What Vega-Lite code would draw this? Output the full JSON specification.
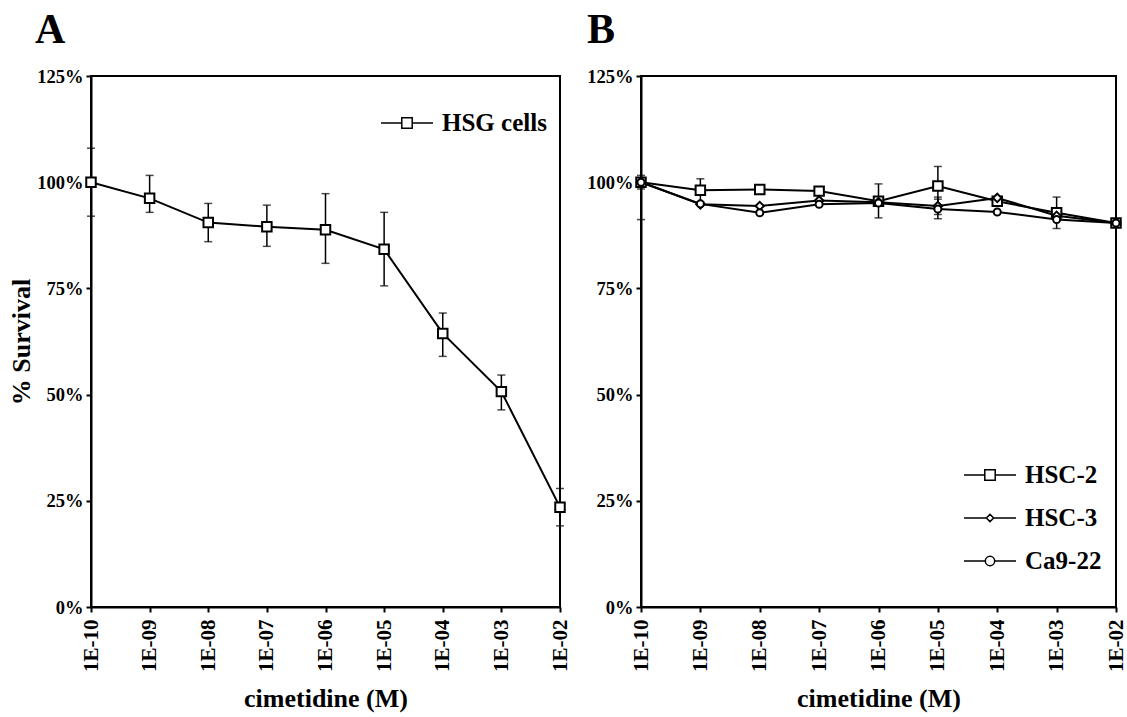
{
  "$schema": "https://vega.github.io/schema/vega-lite/v6.json",
  "background": "white",
  "padding": {"left": 7, "top": 8, "right": 5, "bottom": 0},
  "spacing": 13,
  "datasets": {
    "A": [
      {"series": "HSG cells", "conc": 1e-10, "y": 100.0, "lo": 92.0, "hi": 108.0},
      {"series": "HSG cells", "conc": 1e-9, "y": 96.2, "lo": 92.9, "hi": 101.6},
      {"series": "HSG cells", "conc": 1e-8, "y": 90.5, "lo": 86.0, "hi": 95.0},
      {"series": "HSG cells", "conc": 1e-7, "y": 89.5, "lo": 84.9, "hi": 94.6},
      {"series": "HSG cells", "conc": 1e-6, "y": 88.8, "lo": 80.9, "hi": 97.3},
      {"series": "HSG cells", "conc": 1e-5, "y": 84.2, "lo": 75.6, "hi": 92.9},
      {"series": "HSG cells", "conc": 1e-4, "y": 64.4, "lo": 59.0, "hi": 69.2},
      {"series": "HSG cells", "conc": 1e-3, "y": 50.7, "lo": 46.4, "hi": 54.6},
      {"series": "HSG cells", "conc": 1e-2, "y": 23.5, "lo": 19.1, "hi": 27.9}
    ],
    "B": [
      {"series": "HSC-2", "conc": 1e-10, "y": 100.0, "lo": 98.4, "hi": 101.6},
      {"series": "HSC-2", "conc": 1e-9, "y": 98.1, "lo": 95.4, "hi": 100.8},
      {"series": "HSC-2", "conc": 1e-8, "y": 98.3, "lo": null, "hi": null},
      {"series": "HSC-2", "conc": 1e-7, "y": 97.9, "lo": null, "hi": null},
      {"series": "HSC-2", "conc": 1e-6, "y": 95.5, "lo": 91.6, "hi": 99.6},
      {"series": "HSC-2", "conc": 1e-5, "y": 99.1, "lo": 94.5, "hi": 103.7},
      {"series": "HSC-2", "conc": 1e-4, "y": 95.5, "lo": null, "hi": null},
      {"series": "HSC-2", "conc": 1e-3, "y": 92.8, "lo": 89.1, "hi": 96.5},
      {"series": "HSC-2", "conc": 1e-2, "y": 90.4, "lo": null, "hi": null},
      {"series": "HSC-3", "conc": 1e-10, "y": 100.0, "lo": null, "hi": null},
      {"series": "HSC-3", "conc": 1e-9, "y": 94.8, "lo": null, "hi": null},
      {"series": "HSC-3", "conc": 1e-8, "y": 94.4, "lo": null, "hi": null},
      {"series": "HSC-3", "conc": 1e-7, "y": 95.7, "lo": null, "hi": null},
      {"series": "HSC-3", "conc": 1e-6, "y": 95.3, "lo": null, "hi": null},
      {"series": "HSC-3", "conc": 1e-5, "y": 94.4, "lo": 92.4, "hi": 96.5},
      {"series": "HSC-3", "conc": 1e-4, "y": 96.3, "lo": null, "hi": null},
      {"series": "HSC-3", "conc": 1e-3, "y": 92.1, "lo": null, "hi": null},
      {"series": "HSC-3", "conc": 1e-2, "y": 90.4, "lo": null, "hi": null},
      {"series": "Ca9-22", "conc": 1e-10, "y": 100.0, "lo": 91.2, "hi": 100.0},
      {"series": "Ca9-22", "conc": 1e-9, "y": 94.9, "lo": null, "hi": null},
      {"series": "Ca9-22", "conc": 1e-8, "y": 92.8, "lo": null, "hi": null},
      {"series": "Ca9-22", "conc": 1e-7, "y": 94.8, "lo": null, "hi": null},
      {"series": "Ca9-22", "conc": 1e-6, "y": 95.1, "lo": null, "hi": null},
      {"series": "Ca9-22", "conc": 1e-5, "y": 93.7, "lo": 91.4, "hi": 96.0},
      {"series": "Ca9-22", "conc": 1e-4, "y": 93.0, "lo": null, "hi": null},
      {"series": "Ca9-22", "conc": 1e-3, "y": 91.2, "lo": null, "hi": null},
      {"series": "Ca9-22", "conc": 1e-2, "y": 90.4, "lo": null, "hi": null}
    ]
  },
  "hconcat": [
    {
      "width": 469,
      "height": 531,
      "data": {"name": "A"},
      "title": {"text": "A", "anchor": "start", "frame": "group", "dx": -56, "offset": -27, "baseline": "bottom", "fontSize": 42, "font": "Liberation Serif", "fontWeight": "bold", "color": "black"},
      "encoding": {
        "x": {"field": "conc", "type": "quantitative", "scale": {"type": "log", "domain": [1e-10, 1e-2], "nice": false},
              "axis": {"title": "cimetidine (M)", "values": [1e-10, 1e-9, 1e-8, 1e-7, 1e-6, 1e-5, 1e-4, 1e-3, 1e-2],
                       "labelExpr": "(round(log(datum.value)/LN10) > -10 ? '1E-0' : '1E-') + abs(round(log(datum.value)/LN10))"}},
        "y": {"field": "y", "type": "quantitative", "scale": {"domain": [0, 125], "nice": false},
              "axis": {"title": "% Survival", "values": [0, 25, 50, 75, 100, 125], "labelExpr": "datum.value + '%'"}}
      },
      "layer": [
        {"transform": [{"filter": "datum.lo != null"}],
         "mark": {"type": "errorbar", "color": "black", "ticks": {"size": 8, "thickness": 1.5}, "rule": {"strokeWidth": 1.5}},
         "encoding": {"y": {"field": "lo", "type": "quantitative"}, "y2": {"field": "hi"}}},
        {"mark": {"type": "line", "color": "black", "strokeWidth": 2}, "encoding": {"detail": {"field": "series"}}},
        {"mark": {"type": "point", "shape": "square", "filled": true, "fill": "white", "stroke": "black", "strokeWidth": 2, "size": 90, "opacity": 1}},
        {"transform": [{"filter": "false"}],
         "mark": {"type": "point"},
         "encoding": {"shape": {"field": "series", "type": "nominal",
           "scale": {"domain": ["HSG cells"], "range": ["M-1,0L-0.2,0M0.2,0L1,0M-0.2,-0.2L0.2,-0.2L0.2,0.2L-0.2,0.2Z"]},
           "legend": {"orient": "none", "legendX": 289, "legendY": 20, "title": null}}}}
      ]
    },
    {
      "width": 475,
      "height": 531,
      "data": {"name": "B"},
      "title": {"text": "B", "anchor": "start", "frame": "group", "dx": -54, "offset": -27, "baseline": "bottom", "fontSize": 42, "font": "Liberation Serif", "fontWeight": "bold", "color": "black"},
      "encoding": {
        "x": {"field": "conc", "type": "quantitative", "scale": {"type": "log", "domain": [1e-10, 1e-2], "nice": false},
              "axis": {"title": "cimetidine (M)", "values": [1e-10, 1e-9, 1e-8, 1e-7, 1e-6, 1e-5, 1e-4, 1e-3, 1e-2],
                       "labelExpr": "(round(log(datum.value)/LN10) > -10 ? '1E-0' : '1E-') + abs(round(log(datum.value)/LN10))"}},
        "y": {"field": "y", "type": "quantitative", "scale": {"domain": [0, 125], "nice": false},
              "axis": {"title": null, "values": [0, 25, 50, 75, 100, 125], "labelExpr": "datum.value + '%'"}}
      },
      "layer": [
        {"transform": [{"filter": "datum.lo != null"}],
         "mark": {"type": "errorbar", "color": "black", "ticks": {"size": 8, "thickness": 1.5}, "rule": {"strokeWidth": 1.5}},
         "encoding": {"y": {"field": "lo", "type": "quantitative"}, "y2": {"field": "hi"}}},
        {"mark": {"type": "line", "color": "black", "strokeWidth": 2}, "encoding": {"detail": {"field": "series"}}},
        {"mark": {"type": "point", "filled": true, "fill": "white", "stroke": "black", "strokeWidth": 2, "opacity": 1},
         "encoding": {
           "shape": {"field": "series", "type": "nominal", "scale": {"domain": ["HSC-2", "HSC-3", "Ca9-22"], "range": ["square", "diamond", "circle"]}, "legend": null},
           "size": {"field": "series", "type": "nominal", "scale": {"domain": ["HSC-2", "HSC-3", "Ca9-22"], "range": [90, 50, 90]}, "legend": null}
         }},
        {"transform": [{"filter": "false"}],
         "mark": {"type": "point"},
         "encoding": {"shape": {"field": "series", "type": "nominal",
           "scale": {"domain": ["HSC-2", "HSC-3", "Ca9-22"], "range": [
             "M-1,0L-0.2,0M0.2,0L1,0M-0.2,-0.2L0.2,-0.2L0.2,0.2L-0.2,0.2Z",
             "M-1,0L-0.14,0M0.14,0L1,0M-0.14,0L0,-0.14L0.14,0L0,0.14Z",
             "M-1,0L-0.18,0M0.18,0L1,0M-0.18,0A0.18,0.18,0,1,0,0.18,0A0.18,0.18,0,1,0,-0.18,0Z"]},
           "legend": {"orient": "none", "legendX": 322, "legendY": 372, "title": null, "rowPadding": 3}}}}
      ],
      "resolve": {"scale": {"shape": "independent"}, "legend": {"shape": "independent"}}
    }
  ],
  "config": {
    "view": {"stroke": "black", "strokeWidth": 2},
    "axis": {
      "grid": false, "domainColor": "black", "domainWidth": 2, "tickColor": "black", "tickWidth": 2, "tickSize": 5,
      "labelFont": "Liberation Serif", "labelFontWeight": "bold", "labelFontSize": 18.5, "labelColor": "black",
      "titleFont": "Liberation Serif", "titleFontWeight": "bold", "titleFontSize": 26, "titleColor": "black"
    },
    "axisX": {"labelAngle": 270, "labelFontSize": 21, "labelPadding": 7, "titlePadding": 14},
    "axisY": {"labelPadding": 3, "titlePadding": 2},
    "legend": {
      "labelFont": "Liberation Serif", "labelFontWeight": "bold", "labelFontSize": 25, "labelColor": "black",
      "symbolStrokeColor": "black", "symbolFillColor": "white", "symbolStrokeWidth": 1.5, "symbolOpacity": 1,
      "symbolSize": 2704, "labelOffset": 8, "padding": 0, "rowPadding": 3
    }
  }
}
